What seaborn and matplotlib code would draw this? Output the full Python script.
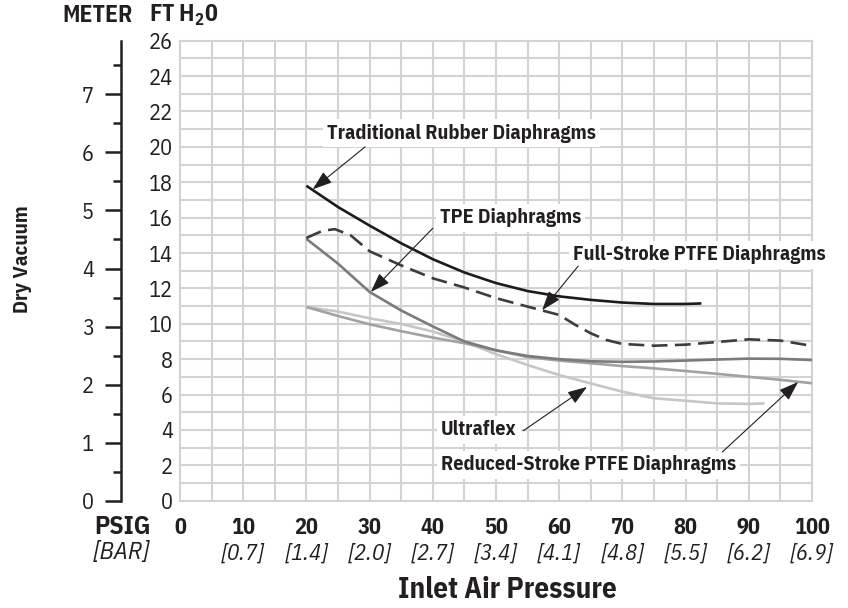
import numpy as np
import pandas as pd
import matplotlib
matplotlib.use("Agg")
import matplotlib.pyplot as plt
import matplotlib.transforms as mtransforms
import seaborn as sns

# ---------------- data ----------------
psi_trad = [20, 22.5, 25, 30, 35, 40, 45, 50, 55, 60, 65, 70, 75, 80, 82.5]
ft_trad = [17.8, 17.2, 16.6, 15.55, 14.55, 13.65, 12.9, 12.3, 11.85, 11.55, 11.35, 11.2, 11.12, 11.12, 11.15]

psi_full = [20, 22.5, 24.5, 27, 30, 35, 40, 45, 50, 55, 60, 62.5, 65, 67.5, 70, 75, 80, 85, 90, 95, 100]
ft_full = [14.85, 15.25, 15.35, 15.0, 14.1, 13.3, 12.57, 12.05, 11.45, 10.97, 10.5, 9.95, 9.46, 9.08, 8.86, 8.76, 8.82, 8.97, 9.12, 9.05, 8.75]

psi_tpe = [20, 22.5, 25, 27.5, 30, 35, 40, 45, 50, 55, 60, 65, 70, 75, 80, 85, 90, 95, 100]
ft_tpe = [14.8, 14.1, 13.4, 12.6, 11.8, 10.75, 9.85, 9.0, 8.5, 8.18, 8.0, 7.88, 7.85, 7.87, 7.92, 7.98, 8.03, 8.02, 7.95]

psi_red = [20, 25, 30, 35, 40, 45, 50, 55, 60, 65, 70, 75, 80, 85, 90, 95, 100]
ft_red = [10.95, 10.44, 9.97, 9.58, 9.22, 8.9, 8.5, 8.12, 7.92, 7.77, 7.61, 7.48, 7.33, 7.17, 7.0, 6.83, 6.64]

psi_ultra = [20, 25, 30, 35, 40, 45, 50, 55, 60, 65, 70, 75, 80, 85, 90, 92.5]
ft_ultra = [10.95, 10.69, 10.31, 9.99, 9.56, 8.99, 8.28, 7.67, 7.1, 6.63, 6.16, 5.79, 5.65, 5.5, 5.47, 5.5]

psi_ticks = [0, 10, 20, 30, 40, 50, 60, 70, 80, 90, 100]
bar_labels = ["", "[0.7]", "[1.4]", "[2.0]", "[2.7]", "[3.4]", "[4.1]", "[4.8]", "[5.5]", "[6.2]", "[6.9]"]
ft_ticks = [0, 2, 4, 6, 8, 10, 12, 14, 16, 18, 20, 22, 24, 26]
meter_ticks = [0, 1, 2, 3, 4, 5, 6, 7]

labels = ["Traditional Rubber Diaphragms", "TPE Diaphragms", "Full-Stroke PTFE Diaphragms",
          "Ultraflex", "Reduced-Stroke PTFE Diaphragms"]
label_pos = [(23.3, 20.78), (41.1, 15.98), (62.2, 13.9), (41.3, 4.0), (41.3, 2.02)]
arrow_tail = [(29.3, 20.0), (40.0, 15.4), (63.0, 13.26), (54.3, 3.95), (85.8, 2.75)]
arrow_head = [(21.0, 17.6), (30.2, 11.8), (57.3, 10.77), (64.4, 6.43), (97.8, 6.71)]

# ---------------- style ----------------
sns.set_theme(style="white")
FN = "IBM Plex Sans Condensed"
FONT = [FN, "DejaVu Sans"]
plt.rcParams["font.family"] = FONT
plt.rcParams["mathtext.fontset"] = "custom"
plt.rcParams["mathtext.rm"] = FN
plt.rcParams["mathtext.bf"] = FN + ":bold"
TXT = "#231f20"

W, H = 848, 608
fig = plt.figure(figsize=(W / 100, H / 100), dpi=100)
L, R, T, B = 180, 812, 40.7, 500.7
ax = fig.add_axes([L / W, 1 - B / H, (R - L) / W, (B - T) / H])
ax.set_xlim(0, 100)
ax.set_ylim(0, 26)

ax.set_xticks(psi_ticks)
ax.set_xticks(np.arange(0, 101, 5), minor=True)
ax.set_yticks(ft_ticks)
ax.set_yticks(np.arange(0, 27, 1), minor=True)
ax.grid(True, which="both", color="#d3d3d3", lw=1.5)
ax.set_axisbelow(True)
for s in ax.spines.values():
    s.set_visible(False)
ax.tick_params(which="both", length=0)
ax.tick_params(axis="y", labelsize=16, pad=5, labelcolor=TXT)
ax.tick_params(axis="x", labelsize=16, pad=12, labelcolor=TXT)
ax.set_xticklabels([str(v) for v in psi_ticks], fontweight="bold")
for t in ax.xaxis.get_major_ticks() + ax.xaxis.get_minor_ticks() + \
        ax.yaxis.get_major_ticks() + ax.yaxis.get_minor_ticks():
    t.gridline.set_clip_on(False)

# curves
series = [
    (psi_ultra, ft_ultra, "#c6c6c6", "-"),
    (psi_red, ft_red, "#a2a2a2", "-"),
    (psi_tpe, ft_tpe, "#7b7b7b", "-"),
    (psi_full, ft_full, "#3d3d3d", "--"),
    (psi_trad, ft_trad, "#1c1c1c", "-"),
]
for xs, ys, col, ls in series:
    sns.lineplot(x=xs, y=ys, ax=ax, color=col, lw=1.9, sort=False, errorbar=None)
    ln = ax.lines[-1]
    ln.set_solid_capstyle("butt")
    ln.set_solid_joinstyle("round")
    if ls == "--":
        ln.set_dashes((6, 2.8))
        ln.set_dash_capstyle("butt")

# annotations
for lab, (tx, ty), tail, head in zip(labels, label_pos, arrow_tail, arrow_head):
    ax.text(tx, ty, lab, fontsize=14.5, fontweight="bold", color=TXT, ha="left", va="center",
            bbox=dict(facecolor="white", edgecolor="none", pad=3), zorder=5)
    ax.annotate("", xy=head, xytext=tail,
                arrowprops=dict(arrowstyle="-|>,head_length=1.0,head_width=0.35",
                                lw=0.8, color=TXT, shrinkA=0, shrinkB=0), zorder=6)

# bar labels under ticks
trans = mtransforms.blended_transform_factory(ax.transData, ax.transAxes)
for x, lab in zip(psi_ticks, bar_labels):
    ax.text(x, (B - 554) / (B - T), lab, transform=trans, ha="center", va="center",
            fontsize=16.5, style="italic", color=TXT)

# meter axis
sec = ax.secondary_yaxis((121 - L) / (R - L), functions=(lambda f: f / 3.281, lambda m: m * 3.281))
sec.set_yticks(meter_ticks)
sec.set_yticks(np.arange(0.5, 8, 1), minor=True)
sec.tick_params(which="both", left=True, direction="out", color=TXT, width=1.8)
sec.tick_params(which="major", length=11.5, labelsize=16, pad=8, labelcolor=TXT)
sec.tick_params(which="minor", length=5.8)
sec.spines["left"].set_linewidth(1.8)
sec.spines["left"].set_color(TXT)

# axis titles
def ftext(px, py, s, **kw):
    fig.text(px / W, 1 - py / H, s, ha="center", va="center", color=TXT, **kw)

ftext(97.5, 15, "METER", fontsize=17, fontweight="bold")
ftext(184, 15, r"FT H$_\mathbf{2}$0", fontsize=17, fontweight="bold")
ftext(122, 527, "PSIG", fontsize=18.5, fontweight="bold")
ftext(122, 553, "[BAR]", fontsize=18, style="italic")
ftext(507.5, 590, "Inlet Air Pressure", fontsize=21, fontweight="bold")
ftext(23, 259, "Dry Vacuum", fontsize=15, fontweight="bold", rotation=90)

fig.savefig("out.png", dpi=100, facecolor="white")
